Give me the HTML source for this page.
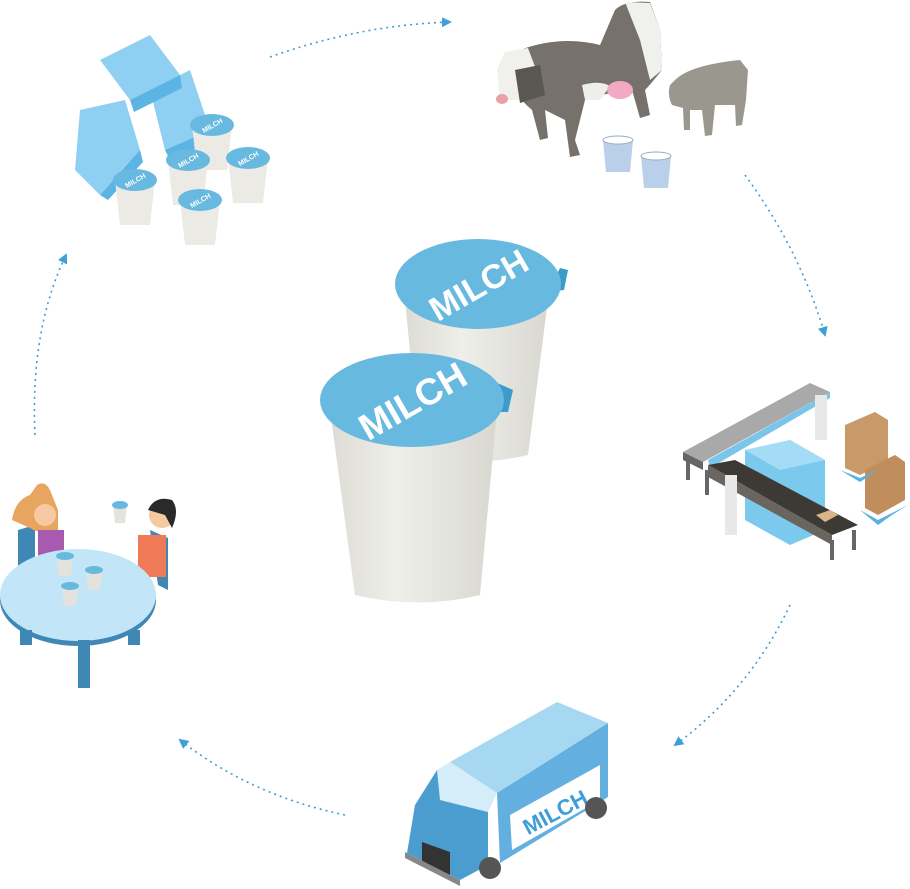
<!DOCTYPE html>
<html><head><meta charset="utf-8"><style>
html,body{margin:0;padding:0;background:#fff;}
svg{display:block}
text{font-family:"Liberation Sans",sans-serif;font-weight:bold}
</style></head><body>
<svg width="910" height="889" viewBox="0 0 910 889">
<defs>
<marker id="ah" markerWidth="10" markerHeight="10" refX="8" refY="5" orient="auto" markerUnits="userSpaceOnUse"><path d="M0,0 L10,5 L0,10 Z" fill="#3f9ed6"/></marker>
<linearGradient id="cup" x1="0" x2="1"><stop offset="0" stop-color="#dcdbd4"/><stop offset="0.4" stop-color="#efefea"/><stop offset="1" stop-color="#d8d7d0"/></linearGradient>
</defs>
<g fill="none" stroke="#3f9ed6" stroke-width="1.6" stroke-dasharray="2 4" marker-end="url(#ah)">
<path d="M270,57 Q360,25 450,22"/>
<path d="M745,175 Q800,250 825,335"/>
<path d="M790,605 Q750,690 675,745"/>
<path d="M345,815 Q250,795 180,740"/>
<path d="M35,435 Q30,330 66,255"/>
</g>
<!-- back cup -->
<path d="M405,300 L548,300 L528,455 Q474,468 420,455 Z" fill="url(#cup)"/>
<path d="M560,268 L568,270 L564,290 L548,292 Z" fill="#3d9bcc"/>
<ellipse cx="478" cy="284" rx="83" ry="45" fill="#68b9e0"/>
<text x="478" y="297" font-size="34" fill="#fff" text-anchor="middle" transform="rotate(-30 478 284)">MILCH</text>
<!-- front cup -->
<path d="M330,410 L497,410 L480,595 Q418,610 355,595 Z" fill="url(#cup)"/>
<path d="M495,382 L513,390 L508,412 L490,412 Z" fill="#3d9bcc"/>
<ellipse cx="412" cy="400" rx="92" ry="47" fill="#68b9e0"/>
<text x="412" y="414" font-size="37" fill="#fff" text-anchor="middle" transform="rotate(-30 412 400)">MILCH</text>
<!-- truck -->
<polygon points="450,762 557,702 608,723 497,793" fill="#a7d8f1"/>
<polygon points="497,793 608,723 608,797 500,863" fill="#62afe0"/>
<polygon points="510,815 600,765 600,800 512,850" fill="#fff"/>
<text x="555" y="820" font-size="22" fill="#3f9ed6" text-anchor="middle" transform="rotate(-28 555 812)">MILCH</text>
<polygon points="437,770 450,762 497,793 488,812 440,800" fill="#d5edf9"/>
<polygon points="437,770 440,800 488,812 488,865 460,880 407,853 415,805" fill="#4b9dd0"/>
<polygon points="422,842 450,852 450,875 422,862" fill="#333"/>
<polygon points="405,852 460,880 460,886 405,858" fill="#888"/>
<circle cx="490" cy="868" r="11" fill="#555"/><circle cx="596" cy="808" r="11" fill="#555"/>
<!-- cows -->
<g>
<path d="M520,50 Q560,35 600,45 L615,10 Q625,0 650,2 L660,30 L662,70 Q650,85 645,90 L650,115 L640,118 L632,90 L600,95 Q585,100 585,100 L575,140 L580,155 L570,157 L565,120 L545,110 L548,138 L540,140 L532,110 Q520,100 515,90 Z" fill="#76726b"/>
<path d="M625,2 L650,3 L660,30 L662,70 L650,80 L640,40 Z" fill="#f0f0ec"/>
<path d="M505,52 L528,48 L540,80 L520,100 L500,100 L497,70 Z" fill="#f0f0ec"/>
<path d="M515,70 L540,65 L545,95 L520,103 Z" fill="#5a5650"/>
<ellipse cx="502" cy="99" rx="6" ry="5" fill="#e9a0a8"/>
<path d="M582,85 Q600,80 610,86 L600,100 L585,100 Z" fill="#eeeeea"/>
<ellipse cx="620" cy="90" rx="13" ry="9" fill="#f2aac4"/>
<path d="M675,80 Q690,65 740,60 L748,70 L746,100 L742,125 L736,126 L735,105 L715,105 L712,135 L705,136 L702,110 L690,110 L690,130 L684,130 L683,108 L672,105 Q667,95 670,85 Z" fill="#9a978f"/>
</g>
<path d="M603,140 h30 l-3,32 h-24 Z" fill="#b9cfea"/><ellipse cx="618" cy="140" rx="15" ry="4" fill="#fff" stroke="#9ab"/>
<path d="M641,156 h30 l-3,32 h-24 Z" fill="#b9cfea"/><ellipse cx="656" cy="156" rx="15" ry="4" fill="#fff" stroke="#9ab"/>
<!-- recycling -->
<g fill="#8fd0f2">
<polygon points="100,60 150,35 180,75 130,100"/>
<polygon points="80,110 125,100 140,150 100,195 75,170"/>
<polygon points="150,90 190,70 210,130 165,150"/>
</g>
<g fill="#5cb4e4">
<polygon points="130,100 180,75 182,88 134,112"/>
<polygon points="100,195 140,150 143,162 108,200"/>
<polygon points="165,150 210,130 212,142 170,160"/>
</g>
<g font-size="7" fill="#fff" text-anchor="middle">
<path d="M192,125 h40 l-5,45 h-30 Z" fill="#eceae4"/><ellipse cx="212" cy="125" rx="22" ry="11" fill="#68b9e0"/><text x="212" y="128" transform="rotate(-30 212 125)">MILCH</text>
<path d="M228,158 h40 l-5,45 h-30 Z" fill="#eceae4"/><ellipse cx="248" cy="158" rx="22" ry="11" fill="#68b9e0"/><text x="248" y="161" transform="rotate(-30 248 158)">MILCH</text>
<path d="M168,160 h40 l-5,45 h-30 Z" fill="#eceae4"/><ellipse cx="188" cy="160" rx="22" ry="11" fill="#68b9e0"/><text x="188" y="163" transform="rotate(-30 188 160)">MILCH</text>
<path d="M115,180 h40 l-5,45 h-30 Z" fill="#eceae4"/><ellipse cx="135" cy="180" rx="22" ry="11" fill="#68b9e0"/><text x="135" y="183" transform="rotate(-30 135 180)">MILCH</text>
<path d="M180,200 h40 l-5,45 h-30 Z" fill="#eceae4"/><ellipse cx="200" cy="200" rx="22" ry="11" fill="#68b9e0"/><text x="200" y="203" transform="rotate(-30 200 200)">MILCH</text>
</g>
<!-- factory -->
<polygon points="683,452 810,383 830,392 703,462" fill="#a9a9a9"/>
<polygon points="683,452 703,462 703,470 683,460" fill="#666"/>
<polygon points="708,460 830,392 830,398 710,468" fill="#7ac6ea"/>
<rect x="686" y="460" width="4" height="20" fill="#666"/><rect x="705" y="470" width="4" height="25" fill="#666"/>
<polygon points="745,450 790,440 825,460 825,530 790,545 745,520" fill="#7cc9ee"/>
<polygon points="745,450 790,440 825,460 780,470" fill="#a5dcf5"/>
<polygon points="708,465 735,460 858,525 832,535" fill="#3d3a36"/>
<polygon points="708,465 832,535 832,545 708,477" fill="#6a665f"/>
<rect x="852" y="530" width="4" height="20" fill="#666"/><rect x="830" y="540" width="4" height="20" fill="#666"/>
<polygon points="816,515 830,510 838,515 825,522" fill="#d9b48c"/>
<rect x="725" y="475" width="12" height="60" fill="#e8e8e8"/><rect x="815" y="395" width="12" height="45" fill="#e8e8e8"/>
<polygon points="845,425 875,412 888,420 888,462 860,475 845,468" fill="#c89a6a"/>
<polygon points="865,470 895,455 905,462 905,500 878,515 865,508" fill="#c08d5d"/>
<polygon points="840,470 860,478 878,470 860,482" fill="#5ab0e0"/>
<polygon points="860,510 878,520 908,505 892,515 878,525" fill="#5ab0e0"/>
<!-- kids table -->
<path d="M18,530 L35,525 L35,570 L18,575 Z" fill="#3f88b5"/>
<path d="M150,530 L168,538 L168,590 L158,585 Z" fill="#3f88b5"/>
<path d="M12,520 Q15,500 30,495 L37,485 Q45,480 50,490 L58,510 L58,530 Q40,535 30,528 Z" fill="#e8a560"/>
<circle cx="45" cy="515" r="11" fill="#f6c9a3"/>
<rect x="38" y="530" width="26" height="30" fill="#a75ab0"/>
<circle cx="162" cy="515" r="13" fill="#f6c9a3"/>
<path d="M148,510 Q155,495 172,500 Q180,510 172,528 L165,515 Z" fill="#2a2a2a"/>
<rect x="138" y="535" width="28" height="42" fill="#ee7a58"/>
<path d="M113,505 h14 l-2,18 h-10 Z" fill="#e4e2dc"/><ellipse cx="120" cy="505" rx="8" ry="4" fill="#68b9e0"/>
<ellipse cx="78" cy="600" rx="78" ry="46" fill="#3f88b5"/>
<ellipse cx="78" cy="595" rx="78" ry="46" fill="#c2e6f7"/>
<rect x="78" y="640" width="12" height="48" fill="#3f88b5"/>
<rect x="20" y="630" width="12" height="15" fill="#3f88b5"/><rect x="128" y="630" width="12" height="15" fill="#3f88b5"/>
<path d="M57,556 h16 l-2,20 h-12 Z" fill="#e4e2dc"/><ellipse cx="65" cy="556" rx="9" ry="4" fill="#68b9e0"/>
<path d="M86,570 h16 l-2,20 h-12 Z" fill="#e4e2dc"/><ellipse cx="94" cy="570" rx="9" ry="4" fill="#68b9e0"/>
<path d="M62,586 h16 l-2,20 h-12 Z" fill="#e4e2dc"/><ellipse cx="70" cy="586" rx="9" ry="4" fill="#68b9e0"/>
</svg>
</body></html>
